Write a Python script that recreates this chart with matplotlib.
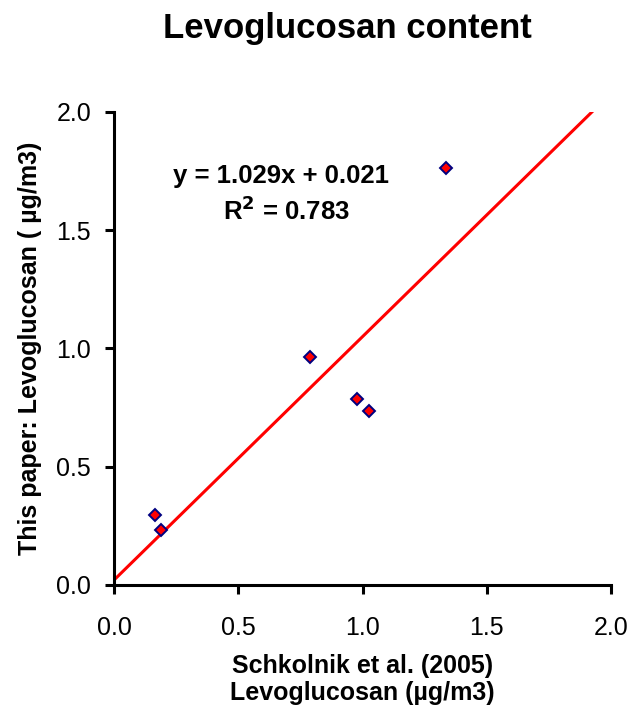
import matplotlib.pyplot as plt
import numpy as np

plt.rcParams['font.family'] = ['Liberation Sans', 'DejaVu Sans']

# Levoglucosan, ug/m3
schkolnik = [0.165, 0.19, 0.79, 0.976, 1.028, 1.335]
this_paper = [0.297, 0.233, 0.966, 0.788, 0.737, 1.763]

slope = 1.029
intercept = 0.021
r2 = 0.783

fig = plt.figure(figsize=(6.31, 7.06), dpi=100)
ax = fig.add_axes([0.1807, 0.1714, 0.7876, 0.6700])

xx = np.array([0.0, 2.0])
ax.plot(xx, slope * xx + intercept, color='#ff0000', lw=2.2, zorder=2)
ax.plot(schkolnik, this_paper, 'D', ms=6, mfc='#ff0000', mec='#000080',
        mew=1.4, ls='none', zorder=3)

ax.set_xlim(0, 2)
ax.set_ylim(0, 2)
ax.set_xticks(np.arange(0, 2.01, 0.5))
ax.set_yticks(np.arange(0, 2.01, 0.5))
ax.xaxis.set_major_formatter(plt.FormatStrFormatter('%.1f'))
ax.yaxis.set_major_formatter(plt.FormatStrFormatter('%.1f'))
ax.tick_params(direction='out', length=6.5, width=2.2, labelsize=18)
ax.tick_params(axis='x', pad=16)
ax.tick_params(axis='y', pad=10)

for side in ['top', 'right']:
    ax.spines[side].set_visible(False)
for side in ['left', 'bottom']:
    ax.spines[side].set_linewidth(2.2)

ax.set_xlabel('Schkolnik et al. (2005)\nLevoglucosan (\u00b5g/m3)',
              fontsize=18, fontweight='bold', linespacing=1.15, labelpad=10)
ax.set_ylabel('This paper: Levoglucosan ( \u00b5g/m3)',
              fontsize=18, fontweight='bold', labelpad=10)

ax.text(0.672, 1.70, f'y = {slope:.3f}x + {intercept:.3f}',
        fontsize=18.5, fontweight='bold', ha='center', va='baseline')
ax.text(0.696, 1.543, f'R$^\\mathbf{{2}}$ = {r2:.3f}',
        fontsize=18.5, fontweight='bold', ha='center', va='baseline')

fig.suptitle('Levoglucosan content', fontsize=25, fontweight='bold',
             x=0.55, y=0.959, va='center')

fig.savefig('out.png', dpi=100)
